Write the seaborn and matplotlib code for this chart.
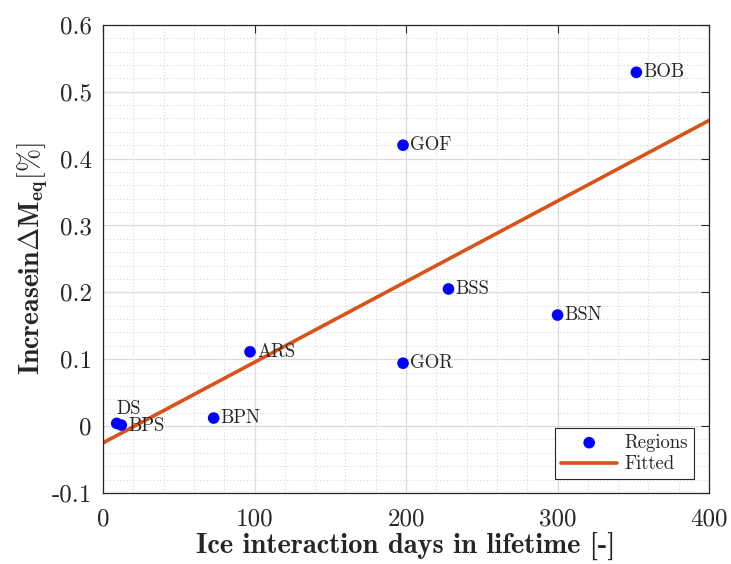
import numpy as np
import pandas as pd
import matplotlib
matplotlib.use("Agg")
import matplotlib.pyplot as plt
from matplotlib.ticker import MultipleLocator, FormatStrFormatter
import seaborn as sns

# Region data: ice interaction days vs. increase in damage-equivalent moment
regions = ["BOB", "GOF", "BSS", "BSN", "ARS", "GOR", "BPN", "DS", "BPS"]
ice_days = [352, 198, 228, 300, 97, 198, 73, 9, 12]
increase = [0.529, 0.420, 0.205, 0.166, 0.111, 0.094, 0.012, 0.004, 0.0015]

df = pd.DataFrame({"days": ice_days, "increase": increase, "region": regions})

# Linear least-squares fit over the x range of the axis
slope, intercept = np.polyfit(df["days"], df["increase"], 1)
fit_x = np.array([0, 400])
fit_df = pd.DataFrame({"days": fit_x, "increase": slope * fit_x + intercept})

sns.set_style("white")
plt.rcParams["font.family"] = ["cmr10", "DejaVu Serif"]
plt.rcParams["mathtext.fontset"] = "cm"
plt.rcParams["axes.unicode_minus"] = False
plt.rcParams["axes.formatter.use_mathtext"] = False

fig = plt.figure(figsize=(7.31, 5.64), dpi=100)
ax = fig.add_axes([0.141, 0.126, 0.829, 0.830])

ax.set_axisbelow(True)
ax.grid(True, which="major", color="#dcdcdc", linewidth=0.9, linestyle="-")
ax.grid(True, which="minor", color="#d6d6d6", linewidth=0.8, linestyle=(0, (1, 2)))

sns.scatterplot(data=df, x="days", y="increase", ax=ax, color="#0000ff",
                s=70, edgecolor="none", label="Regions", zorder=3)
sns.lineplot(data=fit_df, x="days", y="increase", ax=ax, color="#d95319",
             linewidth=2.6, label="Fitted", zorder=2)

# Region labels beside each point
offsets = {"DS": (0, 4, "left", "bottom"), "BPS": (5, -1, "left", "center")}
for name, xv, yv in zip(regions, ice_days, increase):
    dx, dy, ha, va = offsets.get(name, (5, 0, "left", "center"))
    ax.annotate(name, (xv, yv), xytext=(dx, dy), textcoords="offset points",
                ha=ha, va=va, fontsize=13.5, family="cmr10", zorder=4)

ax.set_xlim(0, 400)
ax.set_ylim(-0.1, 0.6)
ax.xaxis.set_major_locator(MultipleLocator(100))
ax.xaxis.set_minor_locator(MultipleLocator(20))
ax.yaxis.set_major_locator(MultipleLocator(0.1))
ax.yaxis.set_minor_locator(MultipleLocator(0.02))
ax.xaxis.set_major_formatter(FormatStrFormatter("%g"))
ax.yaxis.set_major_formatter(FormatStrFormatter("%g"))

ax.tick_params(axis="both", which="major", direction="in", length=6, width=0.8,
               top=True, right=True, labelsize=18, colors="#262626")
ax.tick_params(axis="x", which="major", pad=11)
ax.tick_params(axis="y", which="major", pad=8)
ax.tick_params(axis="both", which="minor", length=0, top=True, right=True)
for lbl in ax.get_xticklabels() + ax.get_yticklabels():
    lbl.set_family("cmr10")

for sp in ax.spines.values():
    sp.set_color("#262626")
    sp.set_linewidth(0.9)

ax.set_xlabel("Ice interaction days in lifetime [-]", family="cmb10",
              fontsize=20.5, color="#262626", labelpad=1)
ax.set_ylabel(r"$\mathbf{Increasein\Delta M_{eq}}[\%]$", fontsize=20,
              color="#262626", labelpad=1)

leg = ax.legend(loc="lower right", frameon=True, fancybox=False,
                prop={"family": "cmr10", "size": 13.5}, edgecolor="#262626",
                framealpha=1, handlelength=3.0, handletextpad=0.4,
                borderpad=0.3, labelspacing=0.2, borderaxespad=0,
                bbox_to_anchor=(0.975, 0.03))
leg.get_frame().set_linewidth(0.8)

fig.savefig("out.png", dpi=100)
